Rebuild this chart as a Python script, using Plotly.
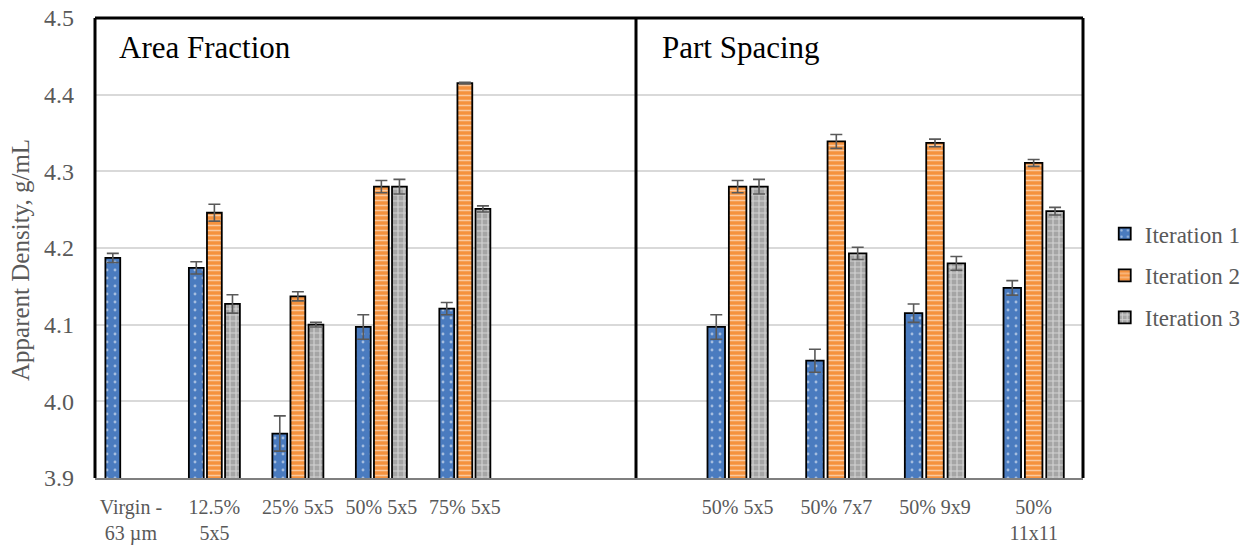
import plotly.graph_objects as go

# ---- data ----
cats_area = ["Virgin -<br>63 µm", "12.5%<br>5x5", "25% 5x5", "50% 5x5", "75% 5x5"]
area_it1 = [4.187, 4.174, 3.958, 4.097, 4.121]
area_it2 = [None, 4.246, 4.137, 4.280, 4.415]
area_it3 = [None, 4.127, 4.100, 4.280, 4.251]
area_err1 = [0.006, 0.008, 0.023, 0.016, 0.008]
area_err2 = [0, 0.011, 0.006, 0.008, 0.001]
area_err3 = [0, 0.012, 0.003, 0.0095, 0.004]

cats_space = ["50% 5x5", "50% 7x7", "50% 9x9", "50%<br>11x11"]
space_it1 = [4.097, 4.053, 4.115, 4.148]
space_it2 = [4.280, 4.339, 4.337, 4.311]
space_it3 = [4.280, 4.193, 4.180, 4.248]
space_err1 = [0.016, 0.015, 0.012, 0.0095]
space_err2 = [0.008, 0.009, 0.005, 0.0045]
space_err3 = [0.0095, 0.008, 0.009, 0.005]

series_names = ["Iteration 1", "Iteration 2", "Iteration 3"]
colors = ["#4A7BBF", "#F5923E", "#A5A5A5"]
patterns = [
    dict(shape=".", fgcolor="white", bgcolor="#4A7BBF", size=8, solidity=0.1),
    dict(shape="-", fgcolor="white", bgcolor="#F5923E", size=5, solidity=0.3),
    dict(shape="+", fgcolor="white", bgcolor="#A5A5A5", size=6, solidity=0.35),
]

FONT = "Liberation Serif"
GREY = "#595959"

fig = go.Figure()

panels = [
    ("x", cats_area, [area_it1, area_it2, area_it3], [area_err1, area_err2, area_err3], True),
    ("x2", cats_space, [space_it1, space_it2, space_it3], [space_err1, space_err2, space_err3], False),
]
for xa, cats, vals, errs, show in panels:
    for i in range(3):
        fig.add_trace(go.Bar(
            x=cats, y=vals[i], name=series_names[i],
            xaxis=xa, yaxis="y",
            legendgroup=series_names[i], showlegend=show,
            marker=dict(color=colors[i], line=dict(color="black", width=1.8),
                        pattern=patterns[i]),
            error_y=dict(type="data", array=errs[i], visible=True,
                         color=GREY, thickness=1.6, width=6),
        ))

split = 541 / 988

fig.update_layout(
    width=1254, height=550,
    margin=dict(l=95, r=171, t=18, b=72, autoexpand=False),
    paper_bgcolor="white", plot_bgcolor="white",
    barmode="group", bargap=0.35, bargroupgap=0.18,
    font=dict(family=FONT, color=GREY, size=20),
    legend=dict(x=1.022, xanchor="left", y=0.44, yanchor="middle",
                font=dict(family=FONT, size=23, color=GREY),
                tracegroupgap=9, traceorder="grouped"),
    xaxis=dict(domain=[0, split], range=[-0.43, 6.05], type="category",
               automargin=False,
               showline=True, linecolor="#7F7F7F", linewidth=2,
               showgrid=False, ticks="",
               tickfont=dict(family=FONT, size=20, color=GREY),
               ticklabelstandoff=10),
    xaxis2=dict(domain=[split, 1], range=[-1.03, 3.5], type="category",
                anchor="y", automargin=False,
                showline=True, linecolor="#7F7F7F", linewidth=2,
                showgrid=False, ticks="",
                tickfont=dict(family=FONT, size=20, color=GREY),
                ticklabelstandoff=10),
    yaxis=dict(range=[3.9, 4.5], dtick=0.1, tickformat=".1f", automargin=False,
               showgrid=True, gridcolor="#D9D9D9", gridwidth=1.5,
               zeroline=False, ticks="", ticklabelstandoff=20,
               ticklabeloverflow="allow",
               tickfont=dict(family=FONT, size=24, color=GREY)),
)

# y-axis title
fig.add_annotation(text="Apparent Density, g/mL", xref="paper", yref="paper",
                   x=(21 - 95) / 988, y=0.474, xanchor="center", yanchor="middle",
                   textangle=-90, showarrow=False,
                   font=dict(family=FONT, size=25, color=GREY))

# black frame and divider
for x0, y0, x1, y1 in [(0, 0, 0, 1), (0, 1, 1, 1), (1, 0, 1, 1), (split, 0, split, 1)]:
    fig.add_shape(type="line", xref="paper", yref="paper", x0=x0, y0=y0, x1=x1, y1=y1,
                  line=dict(color="black", width=3))

fig.add_annotation(text="Area Fraction", xref="paper", yref="paper",
                   x=22 / 988, y=0.935, xanchor="left", yanchor="middle",
                   showarrow=False, font=dict(family=FONT, size=31, color="black"))
fig.add_annotation(text="Part Spacing", xref="paper", yref="paper",
                   x=(660 - 95) / 988, y=0.935, xanchor="left", yanchor="middle",
                   showarrow=False, font=dict(family=FONT, size=31, color="black"))

fig.write_html("out.html", config={"displayModeBar": False},
               post_script="document.body.style.margin='0';")
